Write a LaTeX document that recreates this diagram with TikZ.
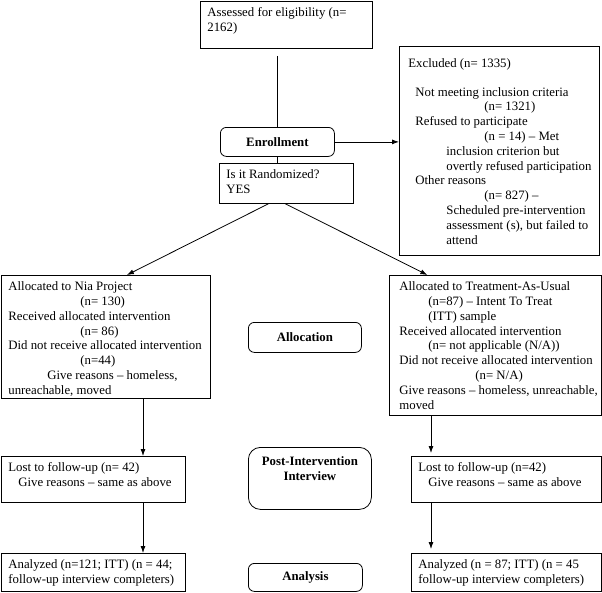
\documentclass[tikz,border=0pt]{standalone}
\usepackage{fontspec}
\setmainfont{Liberation Serif}
\usetikzlibrary{arrows.meta}

\newcommand{\flowtext}[3]{\parbox[t][#2pt][t]{#1pt}{\vspace*{6.5pt}\leftskip=7pt #3}}

\begin{document}
\begin{tikzpicture}[x=1pt,y=-1pt,line width=0.8pt,
  font=\fontsize{12.8}{14.8}\selectfont,
  flowbox/.style={draw, anchor=north west, inner sep=0pt},
  phasebox/.style={draw, anchor=north west, inner sep=0pt, rounded corners=6pt,
    font=\fontsize{12.8}{14.8}\selectfont\bfseries},
  flowarrow/.style={-{Latex[length=7pt,width=5pt]}}]
\useasboundingbox (0,0) rectangle (602,592);

\node[flowbox] (assessed) at (200,1) {\flowtext{172}{47}{Assessed for eligibility (n=\\2162)}};
\node[phasebox, minimum width=114pt, minimum height=29pt] (enroll) at (220,127) {Enrollment};
\node[flowbox] (random) at (219,163) {\flowtext{134}{40}{Is it Randomized?\\YES}};

\node[flowbox] (excluded) at (399,46) {\flowtext{200}{209}{%
\vspace*{6pt}%
\hspace*{2pt}Excluded (n= 1335)\\[13.5pt]
\hspace*{9pt}Not meeting inclusion criteria\\
\hspace*{78pt}(n= 1321)\\
\hspace*{9pt}Refused to participate\\
\hspace*{78pt}(n = 14) – Met\\
\hspace*{40pt}inclusion criterion but\\
\hspace*{40pt}overtly refused participation\\
\hspace*{9pt}Other reasons\\
\hspace*{78pt}(n= 827) –\\
\hspace*{40pt}Scheduled pre-intervention\\
\hspace*{40pt}assessment (s), but failed to\\
\hspace*{40pt}attend}};

\node[flowbox] (nia) at (1,275) {\flowtext{209}{123}{%
Allocated to Nia Project\\
\hspace*{72pt}(n= 130)\\
Received allocated intervention\\
\hspace*{72pt}(n= 86)\\
Did not receive allocated intervention\\
\hspace*{72pt}(n=44)\\
\hspace*{39pt}Give reasons – homeless,\\
unreachable, moved}};

\node[flowbox] (tau) at (389,275) {\flowtext{212}{140}{%
\hspace*{3pt}Allocated to Treatment-As-Usual\\
\hspace*{32pt}(n=87) – Intent To Treat\\
\hspace*{32pt}(ITT) sample\\
\hspace*{3pt}Received allocated intervention\\
\hspace*{32pt}(n= not applicable (N/A))\\
\hspace*{3pt}Did not receive allocated intervention\\
\hspace*{79pt}(n= N/A)\\
\hspace*{3pt}Give reasons – homeless, unreachable,\\
\hspace*{3pt}moved}};

\node[phasebox, minimum width=113pt, minimum height=30pt] (alloc) at (248,322) {Allocation};

\node[flowbox] (lostl) at (1,456) {\flowtext{184}{46}{%
Lost to follow-up (n= 42)\\
\hspace*{10pt}Give reasons – same as above}};
\node[flowbox] (lostr) at (411,456) {\flowtext{190}{46}{%
Lost to follow-up (n=42)\\
\hspace*{10pt}Give reasons – same as above}};
\node[phasebox, rounded corners=12pt] (postint) at (248,447) {\flowtext{123}{62}{%
\vspace*{3pt}\centering Post-Intervention\\Interview}};

\node[flowbox] (anall) at (1,553) {\flowtext{184}{38}{%
Analyzed (n=121; ITT) (n = 44;\\
follow-up interview completers)}};
\node[flowbox] (analr) at (411,553) {\flowtext{190}{38}{%
Analyzed (n = 87; ITT) (n = 45\\
follow-up interview completers)}};
\node[phasebox, minimum width=114pt, minimum height=28pt] (analysis) at (248,563) {Analysis};

\coordinate (leftcol) at (143,0);
\coordinate (rightcol) at (431,0);

\draw[shorten <=7pt] (enroll.north |- assessed.south) -- (enroll.north);
\draw[flowarrow] (enroll.east) -- (enroll.east -| excluded.west);
\draw (enroll.south) -- (enroll.south |- random.north);
\draw[flowarrow] ([xshift=-18pt]random.south) -- ([xshift=21pt]nia.north);
\draw[flowarrow] ([xshift=-1pt]random.south) -- ([xshift=-68pt]tau.north);
\draw[flowarrow] (leftcol |- nia.south) -- (leftcol |- lostl.north);
\draw[flowarrow] (leftcol |- lostl.south) -- (leftcol |- anall.north);
\draw[flowarrow, shorten >=3pt] (rightcol |- tau.south) -- (rightcol |- lostr.north);
\draw[flowarrow, shorten >=4pt] (rightcol |- lostr.south) -- (rightcol |- analr.north);
\end{tikzpicture}
\end{document}
